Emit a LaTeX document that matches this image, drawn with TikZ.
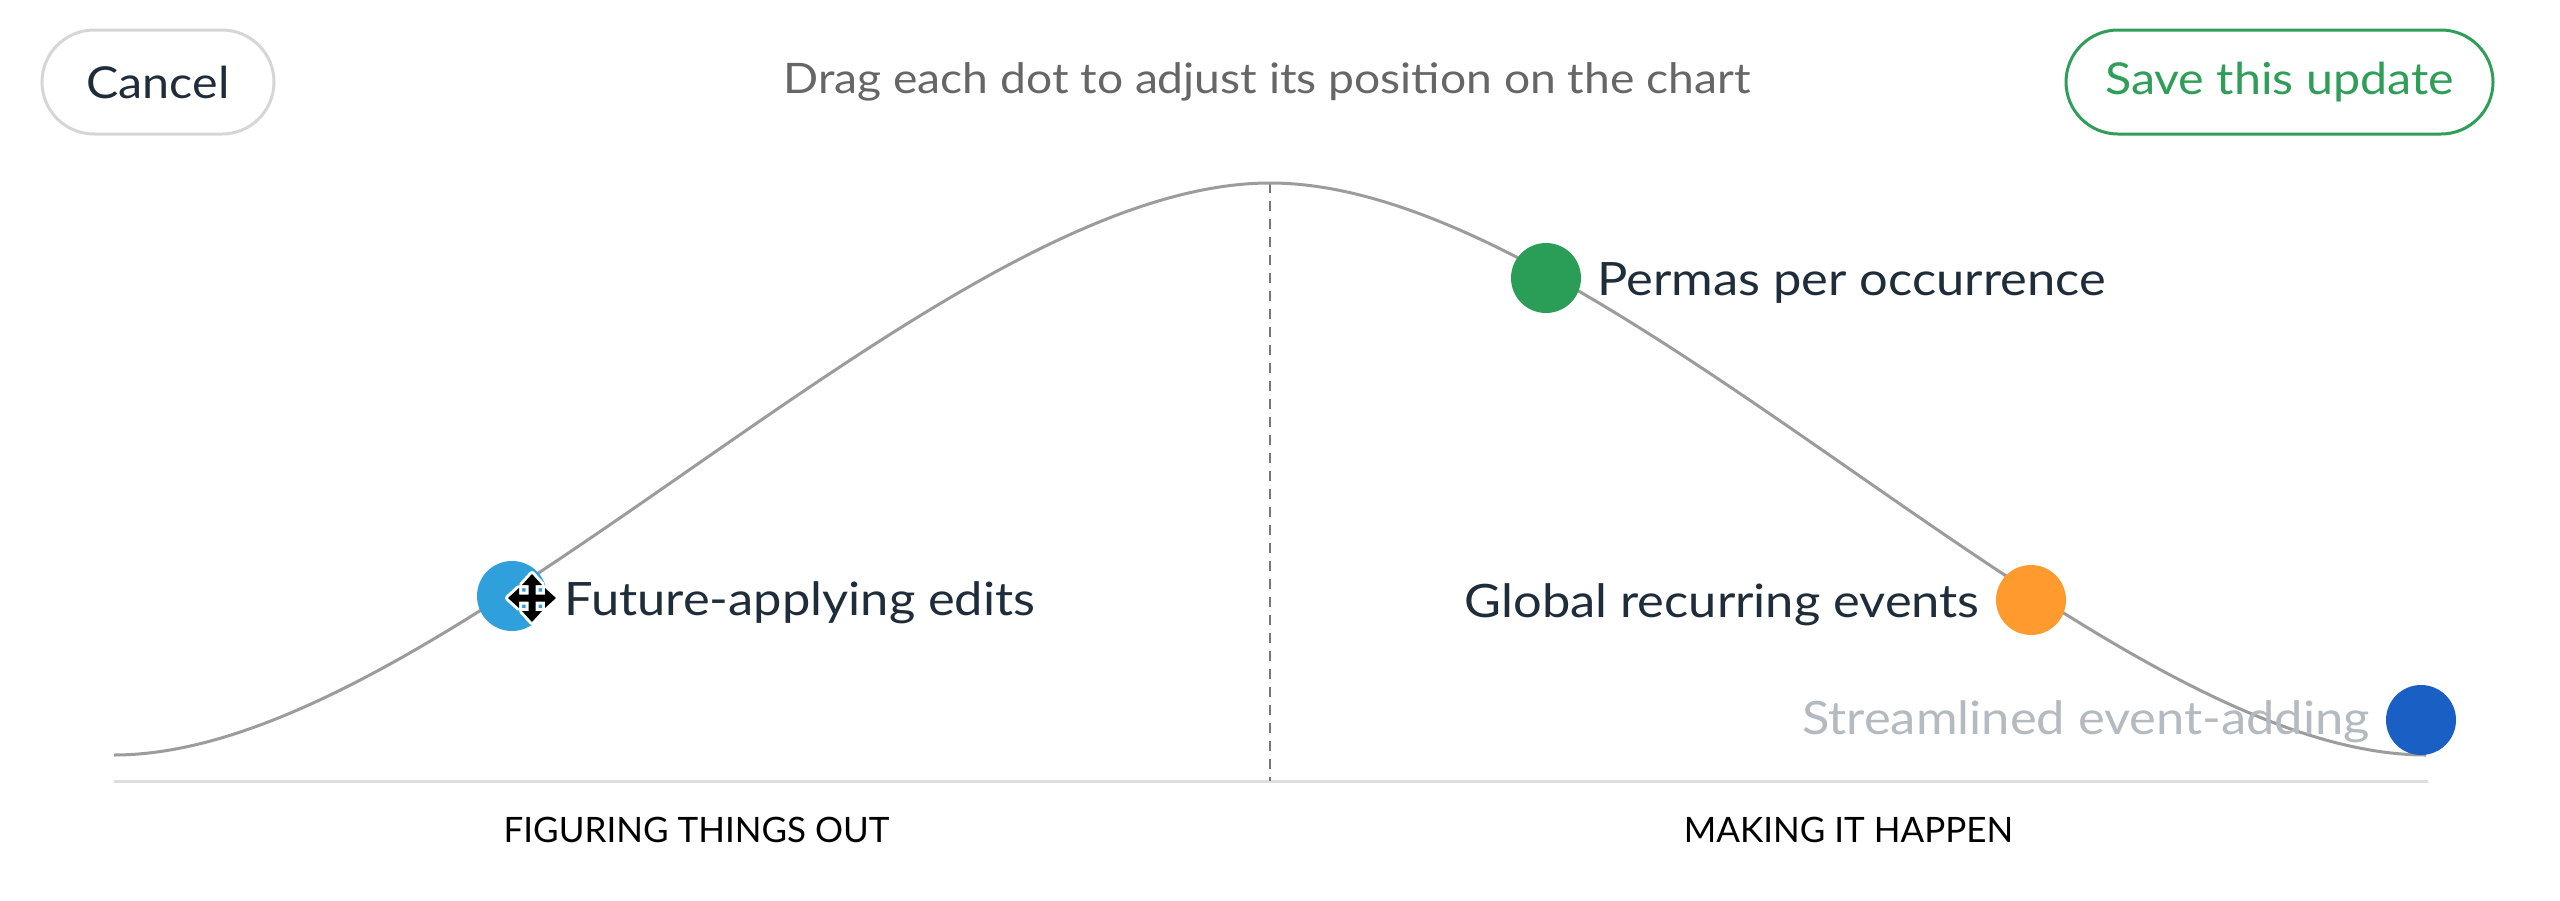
\documentclass[tikz,border=0pt]{standalone}
\usepackage{fontspec}
\setmainfont{Lato}[FakeStretch=1.1]
\newfontfamily\phasefont{Lato}
\definecolor{ink}{HTML}{1F2D3A}
\definecolor{titlegray}{HTML}{666666}
\definecolor{btngray}{HTML}{D6D6D6}
\definecolor{savegreen}{HTML}{2E9E58}
\definecolor{curvegray}{HTML}{9C9C9C}
\definecolor{axisgray}{HTML}{DEDEDE}
\definecolor{dashgray}{HTML}{777777}
\definecolor{fadegray}{HTML}{B3BAC0}
\definecolor{dotlblue}{HTML}{2FA0DC}
\definecolor{dotgreen}{HTML}{2A9D57}
\definecolor{dotorange}{HTML}{FF9A2E}
\definecolor{dotblue}{HTML}{1A5FC4}
\begin{document}
\begin{tikzpicture}[x=0.5pt,y=-0.5pt,
  btn/.style={rounded corners=26pt, minimum width=116pt, minimum height=52pt, line width=1.5pt, inner sep=0pt, font=\fontsize{22pt}{26pt}\selectfont},
  dot/.style={circle, minimum size=35pt, inner sep=0pt},
  lbl/.style={inner sep=0pt, text=ink, font=\fontsize{23pt}{28pt}\selectfont},
  phase/.style={inner sep=0pt, text=black, font=\phasefont\fontsize{17.5pt}{21pt}\selectfont},
  curveline/.style={draw=curvegray, line width=1.5pt},
  axisline/.style={draw=axisgray, line width=1.5pt},
  divider/.style={draw=dashgray, line width=0.7pt, dash pattern=on 5pt off 4pt}
]
\useasboundingbox (0,0) rectangle (2560,900);
\fill[white] (0,0) rectangle (2560,900);

% top bar
\node[btn, draw=btngray, text=ink] (cancel) at (158,82) {Cancel};
\node[btn, draw=savegreen, text=savegreen, minimum width=213.5pt] (save) at (2279.5,82) {Save this update};
\node[inner sep=0pt, anchor=base, text=titlegray, font=\fontsize{21pt}{25pt}\selectfont] (title) at (1267,93) {Drag each dot to adjust its position on the chart};

% chart
\coordinate (cl) at (114,755);
\coordinate (pk) at (1270,183);
\coordinate (cr) at (2426,755);
\coordinate (axl) at (114,781);
\coordinate (axr) at (2428,781);
\coordinate (axm) at (1270,781);
\draw[axisline] (axl) -- (axr);
\draw[divider] (pk) -- (axm);
\draw[curveline] (cl) .. controls (445,755) and (935,183) .. (pk) .. controls (1605,183) and (2095,755) .. (cr);

% dots
\node[dot, fill=dotlblue] (d1) at (512,596) {};
\node[dot, fill=dotgreen] (d2) at (1546,278) {};
\node[dot, fill=dotorange] (d3) at (2031,600) {};
\node[dot, fill=dotblue] (d4) at (2421,720) {};

% move cursor
\begin{scope}[shift={(532,598)}]
\path[draw=white, line width=3pt, line join=round, fill=black]
 (0,-24) -- (10,-13) -- (3.5,-13) -- (3.5,-3.5) -- (13,-3.5) -- (13,-10) -- (24,0) -- (13,10) -- (13,3.5) -- (3.5,3.5) -- (3.5,13) -- (10,13) -- (0,24) -- (-10,13) -- (-3.5,13) -- (-3.5,3.5) -- (-13,3.5) -- (-13,10) -- (-24,0) -- (-13,-10) -- (-13,-3.5) -- (-3.5,-3.5) -- (-3.5,-13) -- (-10,-13) -- cycle;
\fill[black]
 (0,-24) -- (10,-13) -- (3.5,-13) -- (3.5,-3.5) -- (13,-3.5) -- (13,-10) -- (24,0) -- (13,10) -- (13,3.5) -- (3.5,3.5) -- (3.5,13) -- (10,13) -- (0,24) -- (-10,13) -- (-3.5,13) -- (-3.5,3.5) -- (-13,3.5) -- (-13,10) -- (-24,0) -- (-13,-10) -- (-13,-3.5) -- (-3.5,-3.5) -- (-3.5,-13) -- (-10,-13) -- cycle;
\end{scope}

% labels
\node[lbl, anchor=base west] (l1) at (564,615) {Future-applying edits};
\node[lbl, anchor=base west] (l2) at (1597,295) {Permas per occurrence};
\node[lbl, anchor=base east] (l3) at (1980,617) {Global recurring events};
\node[lbl, anchor=base east, text=fadegray] (l4) at (2370,734) {Streamlined event-adding};

\node[phase, anchor=base] (p1) at (696.5,842) {FIGURING THINGS OUT};
\node[phase, anchor=base] (p2) at (1848.5,842) {MAKING IT HAPPEN};
\end{tikzpicture}
\end{document}
